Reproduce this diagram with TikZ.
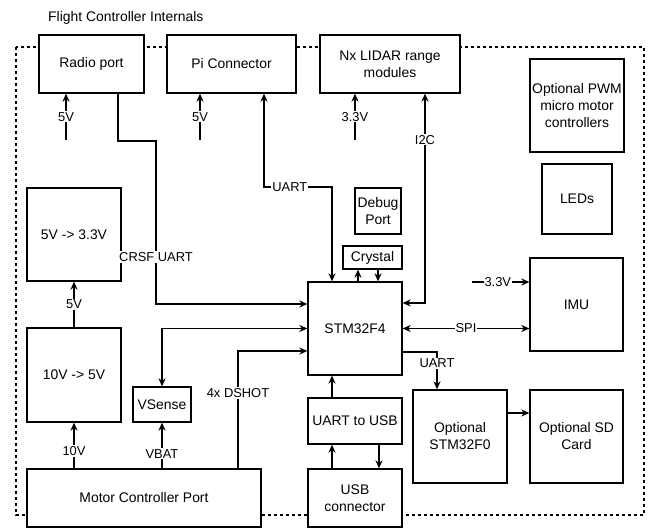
\documentclass[tikz,border=0pt]{standalone}
\usepackage{fontspec}
\setmainfont{Liberation Sans}
\usetikzlibrary{arrows.meta}
\begin{document}
\begin{tikzpicture}[x=1pt,y=-1pt,
  box/.style={draw, fill=white, line width=1.3pt, inner sep=1pt, align=center, font=\fontsize{13.9}{17}\selectfont},
  lbl/.style={fill=white, inner sep=1pt, font=\fontsize{12.9}{14}\selectfont},
  conn/.style={line width=1.3pt},
  arr/.style={conn, -{Stealth[length=8pt,width=7pt,inset=2.5pt]}},
  arrs/.style={conn, {Stealth[length=8pt,width=7pt,inset=2.5pt]}-{Stealth[length=8pt,width=7pt,inset=2.5pt]}},
  frame/.style={line width=1.2pt, dash pattern=on 3pt off 3pt}]
\useasboundingbox (0,0) rectangle (649,529);
\fill[white] (0,0) rectangle (649,529);
% frame and title
\coordinate (fTL) at (16,47);
\coordinate (fBR) at (644,515);
\draw[frame] (fTL) rectangle (fBR);
\node[anchor=west, inner sep=0pt, font=\fontsize{13.9}{16}\selectfont] (title) at (48,18) {Flight Controller Internals};
% boxes
\node[box, minimum width=105pt, minimum height=58pt] (radio) at (91.5,64) {Radio port};
\node[box, minimum width=129pt, minimum height=58pt] (pi) at (231.5,64) {Pi Connector};
\node[box, minimum width=140pt, minimum height=58pt] (lidar) at (390,64) {Nx LIDAR range\\modules};
\node[box, minimum width=94pt, minimum height=93pt] (pwm) at (577,105.5) {Optional PWM\\micro motor\\controllers};
\node[box, minimum width=70pt, minimum height=70pt] (leds) at (577,199) {LEDs};
\node[box, minimum width=46pt, minimum height=46pt] (debug) at (378,211) {Debug\\Port};
\node[box, minimum width=59pt, minimum height=23pt] (crystal) at (372.5,257.5) {Crystal};
\node[box, minimum width=94pt, minimum height=93pt] (stm) at (355,328.5) {STM32F4};
\node[box, minimum width=93pt, minimum height=93pt] (imu) at (576.5,304.5) {IMU};
\node[box, minimum width=94pt, minimum height=46pt] (uartusb) at (355,421) {UART to USB};
\node[box, minimum width=94pt, minimum height=58pt] (usb) at (355,498) {USB\\connector};
\node[box, minimum width=94pt, minimum height=93pt] (f0) at (460,436.5) {Optional\\STM32F0};
\node[box, minimum width=93pt, minimum height=93pt] (sd) at (576.5,436.5) {Optional SD\\Card};
\node[box, minimum width=94pt, minimum height=93pt] (reg33) at (74,234.5) {5V -> 3.3V};
\node[box, minimum width=94pt, minimum height=94pt] (reg5) at (74,375) {10V -> 5V};
\node[box, minimum width=58pt, minimum height=35pt] (vsense) at (162,404.5) {VSense};
\node[box, minimum width=234pt, minimum height=58pt] (motor) at (144,498) {Motor Controller Port};
% supply stubs on top row
\coordinate (r5) at (66,140);
\coordinate (p5) at (200,140);
\coordinate (l33) at (355,140);
\draw[arr] (r5) -- node[lbl]{5V} (r5 |- radio.south);
\draw[arr] (p5) -- node[lbl]{5V} (p5 |- pi.south);
\draw[arr] (l33) -- node[lbl]{3.3V} (l33 |- lidar.south);
% CRSF UART
\coordinate (crA) at (118,141);
\coordinate (crB) at (156,304);
\draw[arr] (crA |- radio.south) -- (crA) -| (crB) -- (crB -| stm.west);
\node[lbl] (crsf) at (156,257) {CRSF UART};
% Pi UART
\coordinate (uA) at (264,187);
\coordinate (uB) at (332,187);
\draw[arrs] (uA |- pi.south) -- (uA) -- node[lbl, pos=0.38]{UART} (uB) -- (uB |- stm.north);
% I2C
\coordinate (iA) at (425,303);
\draw[arrs] (iA |- lidar.south) -- node[lbl, pos=0.22]{I2C} (iA) -- (iA -| stm.east);
% crystal
\coordinate (xU) at (358,0);
\coordinate (xD) at (378,0);
\draw[arr] (stm.north -| xU) -- (crystal.south -| xU);
\draw[arr] (crystal.south -| xD) -- (stm.north -| xD);
% SPI
\draw[arrs] (stm.east) -- node[lbl]{SPI} (stm.east -| imu.west);
% 3.3V to IMU
\coordinate (i33) at (472,282);
\draw[arr] (i33) -- node[lbl, pos=0.45]{3.3V} (i33 -| imu.west);
% UART to F0
\coordinate (fA) at (437,352);
\draw[arr] (fA -| stm.east) -- (fA) -- (fA |- f0.north);
\node[lbl] (f0lbl) at (437,363.5) {UART};
% F0 to SD
\coordinate (sdY) at (510,413);
\draw[arr] (sdY -| f0.east) -- (sdY -| sd.west);
% USB chain
\draw[arr] (uartusb.north -| uB) -- (stm.south -| uB);
\draw[arr] (usb.north -| uB) -- (uartusb.south -| uB);
\coordinate (uD) at (379,0);
\draw[arr] (uartusb.south -| uD) -- (usb.north -| uD);
% left power chain
\draw[arr] (reg5.north) -- node[lbl]{5V} (reg33.south);
\draw[arr] (motor.north -| reg5) -- node[lbl, pos=0.38]{10V} (reg5.south);
\draw[arr] (motor.north -| vsense) -- node[lbl, pos=0.32]{VBAT} (vsense.south);
\draw[arrs] (stm.west) -| (vsense.north);
% DSHOT
\coordinate (dA) at (238,351);
\draw[arr] (motor.north -| dA) -- (dA) -- (dA -| stm.west);
\node[lbl] (dshot) at (238,393) {4x DSHOT};
\end{tikzpicture}
\end{document}
